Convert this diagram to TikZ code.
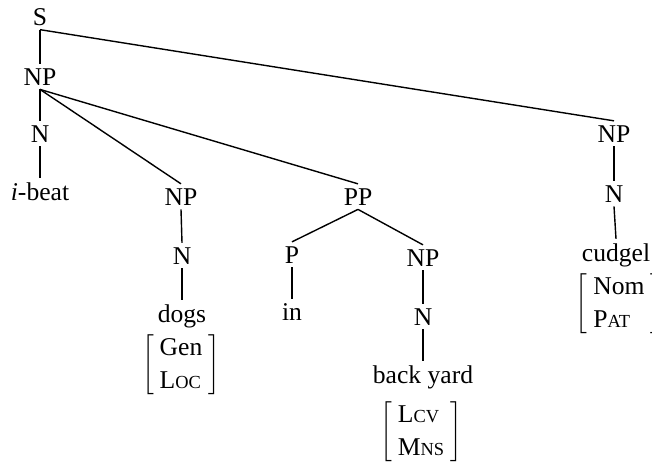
\documentclass[tikz,border=0pt]{standalone}
\usepackage{fontspec}
\setmainfont{Liberation Serif}
\usetikzlibrary{positioning}
\newcommand{\smc}[2]{#1{\fontsize{9.2}{10}\selectfont #2}}
\newcommand{\featmat}[2]{$\left[\begin{tabular}{@{\hspace{3pt}}l@{\hspace{3pt}}}#1\\#2\end{tabular}\right]$}
\tikzset{
  cat/.style={font=\fontsize{12.8}{15.4}\selectfont, inner xsep=1pt, inner ysep=2pt, anchor=base},
  feat/.style={font=\fontsize{12.8}{16.5}\selectfont, inner sep=0pt},
  branch/.style={draw, line width=0.7pt}
}

\begin{document}
\begin{tikzpicture}[x=0.5pt, y=-0.5pt]
\useasboundingbox (0,0) rectangle (652,467);
% spine
\node[cat] (s) at (40,25) {S};
\node[cat] (np) at (40,85) {NP};
\node[cat] (n) at (40,142) {N};
\node[cat] (ibeat) at (40,200) {\textit{i}-beat};
% dogs
\node[cat] (npdog) at (181,205) {NP};
\node[cat] (ndog) at (182,264) {N};
\node[cat] (dogs) at (182,322) {dogs};
\node[feat] (mdog) at (181,365) {\featmat{Gen}{\smc{L}{OC}}};
% in back yard
\node[cat] (pp) at (358,205) {PP};
\node[cat] (p) at (292,263) {P};
\node[cat] (in) at (292,320) {in};
\node[cat] (npyard) at (423,266) {NP};
\node[cat] (nyard) at (423,325) {N};
\node[cat] (yard) at (423,383) {back yard};
\node[feat] (myard) at (421,432) {\featmat{\smc{L}{CV}}{\smc{M}{NS}}};
% cudgel
\node[cat] (npcud) at (614,142) {NP};
\node[cat] (ncud) at (614,202) {N};
\node[cat] (cudgel) at (616,261) {cudgel};
\node[feat] (mcud) at (619,304) {\featmat{Nom}{\smc{P}{AT}}};
% branches
\foreach \a/\b in {s/np, s/npcud, np/n, n/ibeat, np/npdog, np/pp,
  npdog/ndog, ndog/dogs, pp/p, p/in, pp/npyard, npyard/nyard, nyard/yard,
  npcud/ncud, ncud/cudgel}
  \draw[branch] (\a.south) -- (\b.north);
\end{tikzpicture}
\end{document}
